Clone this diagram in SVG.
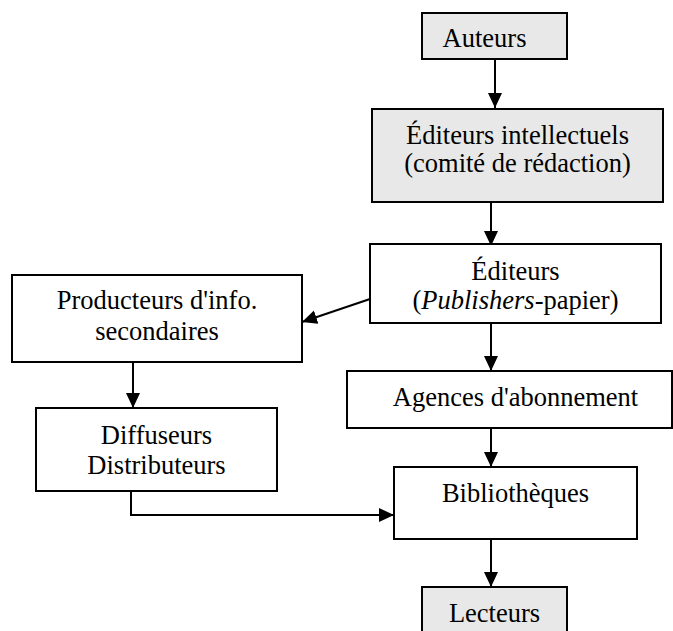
<svg xmlns="http://www.w3.org/2000/svg" width="673" height="631" viewBox="0 0 673 631">
  <defs>
    <style>
      .box { fill: #ffffff; stroke: #000000; stroke-width: 2; }
      .gray { fill: #e8e8e8; }
      .lbl { font-family: "Liberation Serif", "Times New Roman", serif; font-size: 26.5px; fill: #000000; text-anchor: middle; }
      .edge { fill: none; stroke: #000000; stroke-width: 2; marker-end: url(#arrow); }
    </style>
    <marker id="arrow" markerUnits="userSpaceOnUse" markerWidth="16" markerHeight="15" refX="15" refY="7" orient="auto">
      <path d="M0,0 L15,7 L0,14 z" fill="#000000"/>
    </marker>
  </defs>
  <rect width="673" height="631" fill="#ffffff"/>

  <g id="connectors">
    <path class="edge" d="M495,59 L495,108"/>
    <path class="edge" d="M491,202 L491,246"/>
    <path class="edge" d="M370,299 L302,322"/>
    <path class="edge" d="M491,323 L491,371"/>
    <path class="edge" d="M133,362 L133,408"/>
    <path class="edge" d="M491,418 L491,467"/>
    <path class="edge" d="M131,491 L131,515 L394,515"/>
    <path class="edge" d="M491,539 L491,587"/>
  </g>

  <g id="auteurs">
    <rect class="box gray" x="422" y="13" width="145" height="46"/>
    <text class="lbl" x="484.5" y="47">Auteurs</text>
  </g>

  <g id="editeurs-intellectuels">
    <rect class="box gray" x="372" y="109" width="291" height="93"/>
    <text class="lbl" x="517.5" y="144">Éditeurs intellectuels</text>
    <text class="lbl" x="517.5" y="172">(comité de rédaction)</text>
  </g>

  <g id="editeurs">
    <rect class="box" x="370" y="244" width="291" height="79"/>
    <text class="lbl" x="515.5" y="280">Éditeurs</text>
    <text class="lbl" x="515.5" y="309">(<tspan font-style="italic">Publishers</tspan>-papier)</text>
  </g>

  <g id="producteurs">
    <rect class="box" x="12" y="275" width="290" height="87"/>
    <text class="lbl" x="157" y="309">Producteurs d'info.</text>
    <text class="lbl" x="157" y="340">secondaires</text>
  </g>

  <g id="agences">
    <rect class="box" x="347" y="371" width="325" height="57"/>
    <text class="lbl" x="515.5" y="406">Agences d'abonnement</text>
  </g>

  <g id="diffuseurs">
    <rect class="box" x="36" y="408" width="241" height="83"/>
    <text class="lbl" x="156.5" y="444">Diffuseurs</text>
    <text class="lbl" x="156.5" y="474">Distributeurs</text>
  </g>

  <g id="bibliotheques">
    <rect class="box" x="394" y="467" width="243" height="72"/>
    <text class="lbl" x="515.5" y="502">Bibliothèques</text>
  </g>

  <g id="lecteurs">
    <rect class="box gray" x="422" y="587" width="145" height="60"/>
    <text class="lbl" x="494.5" y="622">Lecteurs</text>
  </g>
</svg>
